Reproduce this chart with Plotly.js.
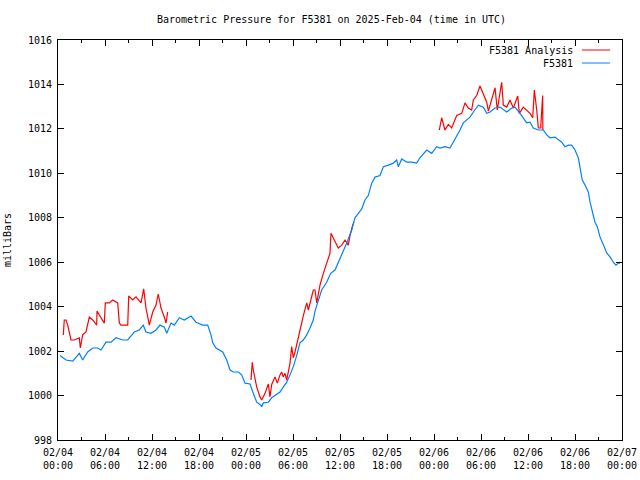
<!DOCTYPE html>
<html>
<head>
<meta charset="utf-8">
<script src="https://cdn.plot.ly/plotly-3.0.1.min.js"></script>
<style>html,body{margin:0;padding:0;background:#fff;}#chart{width:640px;height:480px;}</style>
</head>
<body>
<div id="chart"></div>
<script>
// Hours since 2025-02-04 00:00 UTC
const blueHours = [0.26,1.02,1.88,2.51,2.72,3.15,3.79,4.43,5.07,5.49,6.13,6.77,7.40,8.26,8.90,9.74,10.38,10.89,11.23,11.87,12.51,13.02,13.57,13.88,14.43,14.85,15.49,16.12,16.98,17.62,18.47,19.11,19.53,19.75,20.17,21.03,21.54,21.96,22.38,23.02,23.45,23.87,24.51,24.93,25.37,25.79,26.0,26.21,26.85,27.28,27.70,28.34,28.76,29.20,29.62,30.04,30.47,30.89,31.31,31.75,32.17,32.59,32.81,33.23,33.66,34.30,34.81,35.36,35.78,36.22,36.86,37.49,37.91,38.34,38.77,39.19,39.61,40.05,40.47,41.11,41.53,42.17,42.80,43.24,43.44,43.88,44.52,45.15,45.79,46.21,47.07,47.71,48.34,48.77,49.40,50.04,50.46,50.90,51.32,51.74,52.17,52.60,53.02,53.66,54.30,54.73,55.15,55.79,56.43,56.85,57.28,57.92,58.34,58.98,59.62,59.83,60.26,60.68,61.32,61.96,62.39,62.81,63.45,63.87,64.30,64.72,65.15,65.58,66.0,66.42,66.64,66.93,67.28,67.70,67.92,68.26,68.55,68.85,69.19,69.61,70.05,70.47,70.89,71.23,71.53,71.74];
const bluePressure = [1001.8,1001.6,1001.55,1001.8,1001.9,1001.6,1001.96,1002.14,1002.14,1002.05,1002.4,1002.4,1002.6,1002.5,1002.5,1002.86,1002.95,1003.17,1002.86,1002.8,1002.95,1003.17,1003.08,1002.8,1003.26,1003.17,1003.5,1003.4,1003.58,1003.3,1003.17,1003.17,1002.73,1002.37,1002.14,1001.96,1001.6,1001.15,1001.06,1001.06,1000.93,1000.56,1000.52,1000.1,999.7,999.6,999.5,999.67,999.7,999.9,1000.0,1000.16,1000.38,1000.6,1000.93,1001.3,1001.8,1002.37,1002.5,1002.73,1003.04,1003.4,1003.8,1004.3,1004.75,1005.1,1005.5,1005.65,1006.0,1006.3,1006.86,1007.45,1008.0,1008.2,1008.4,1008.8,1009.0,1009.56,1009.83,1009.9,1010.3,1010.37,1010.46,1010.6,1010.3,1010.65,1010.5,1010.5,1010.46,1010.7,1011.05,1010.9,1011.2,1011.14,1011.2,1011.14,1011.4,1011.63,1011.95,1012.27,1012.4,1012.53,1012.76,1013.07,1012.98,1012.7,1012.76,1012.94,1012.98,1012.85,1012.76,1012.94,1012.98,1012.7,1012.4,1012.27,1012.3,1012.04,1011.95,1011.95,1011.73,1011.6,1011.63,1011.5,1011.4,1011.2,1011.27,1011.27,1011.05,1010.7,1010.3,1009.7,1009.47,1009.16,1008.7,1008.26,1007.8,1007.6,1007.14,1006.8,1006.42,1006.24,1006.0,1005.87,1005.96,1005.96];

const redHours = [0.68,0.80,1.02,1.24,1.66,2.08,2.72,2.85,3.15,3.57,4.0,4.43,4.94,4.98,5.49,5.91,6.04,6.55,6.98,7.62,7.83,8.04,8.90,9.03,9.54,9.96,10.60,10.94,11.23,11.66,12.09,12.51,12.80,13.15,13.57,13.79,14.0,
 14.5,
 24.64,24.80,24.93,25.37,25.79,26.0,26.43,26.85,27.06,27.28,27.70,28.0,28.34,28.55,28.76,28.98,29.20,29.40,29.62,29.83,30.04,30.26,30.68,30.89,31.11,31.32,31.75,31.96,32.59,32.81,33.03,33.45,33.87,34.30,34.72,34.85,35.14,35.78,36.22,36.64,37.06,37.28,37.62,37.79,
 38.5,
 48.68,48.98,49.40,49.83,50.26,50.90,51.54,51.96,52.38,52.81,53.02,53.45,53.87,54.30,54.73,54.94,55.15,55.79,56.08,56.64,56.85,57.28,57.70,58.13,58.69,58.89,59.40,60.26,60.60,60.81,61.11,61.32,61.62,61.87,61.90];
const redPressure = [1002.73,1003.4,1003.4,1003.17,1002.5,1002.5,1002.6,1002.14,1002.73,1002.86,1003.53,1003.4,1003.17,1003.8,1003.5,1003.26,1004.17,1004.17,1004.3,1004.17,1003.26,1003.17,1003.17,1004.48,1004.3,1004.44,1004.17,1004.8,1003.94,1003.17,1003.76,1004.07,1004.57,1003.94,1003.53,1003.26,1003.76,
 null,
 1000.7,1001.5,1001.15,1000.38,999.94,999.8,1000.1,1000.52,999.94,1000.5,1000.84,1000.56,1000.93,1001.06,1000.84,1001.0,1000.7,1001.1,1001.46,1002.2,1001.7,1001.96,1002.6,1002.95,1003.4,1003.6,1004.17,1003.85,1004.75,1004.75,1004.17,1004.98,1005.5,1005.96,1006.4,1007.3,1007.1,1006.64,1006.77,1007.0,1006.77,1007.2,1007.67,1007.8,
 null,
 1011.95,1012.5,1011.95,1012.2,1012.04,1012.6,1012.7,1013.17,1012.94,1012.85,1013.3,1013.5,1013.93,1013.6,1013.2,1012.8,1013.07,1013.85,1012.85,1014.1,1013.07,1012.98,1013.3,1012.94,1013.48,1012.7,1012.98,1012.7,1012.5,1013.75,1012.85,1012.04,1012.04,1013.5,1011.95];

const xTickVals = [0,6,12,18,24,30,36,42,48,54,60,66,72];
const xTickText = ['02/04<br>00:00','02/04<br>06:00','02/04<br>12:00','02/04<br>18:00','02/05<br>00:00','02/05<br>06:00','02/05<br>12:00','02/05<br>18:00','02/06<br>00:00','02/06<br>06:00','02/06<br>12:00','02/06<br>18:00','02/07<br>00:00'];
const seriesNames = ['F5381 Analysis','F5381'];
const seriesColors = ['#ff0000','#0080ff'];

const FONT = 'DejaVu Sans Mono, monospace';

const traces = [
  {x: redHours, y: redPressure, type:'scatter', mode:'lines', name: seriesNames[0],
   line:{color: seriesColors[0], width:1.2}, connectgaps:false},
  {x: blueHours, y: bluePressure, type:'scatter', mode:'lines', name: seriesNames[1],
   line:{color: seriesColors[1], width:1.2}}
];

const legendRowsY = [0.975, 0.9425];
const annotations = seriesNames.map((n,i)=>({
  text: n, xref:'paper', yref:'paper', x:0.9167, y:legendRowsY[i],
  xanchor:'right', yanchor:'middle', showarrow:false,
  font:{family:FONT, size:10, color:'#000'}
}));
const shapes = seriesNames.map((n,i)=>({
  type:'line', xref:'paper', yref:'paper', x0:0.929, x1:0.979, y0:legendRowsY[i], y1:legendRowsY[i],
  line:{color: seriesColors[i], width:1}
}));

const layout = {
  width:640, height:480,
  margin:{l:58, r:18, t:40, b:40, pad:0},
  paper_bgcolor:'#fff', plot_bgcolor:'#fff',
  showlegend:false,
  font:{family:FONT, size:10, color:'#000'},
  title:{text:'Barometric Pressure for F5381 on 2025-Feb-04 (time in UTC)',
         xref:'container', x:0.518, xanchor:'center', yref:'container', y:0.96, yanchor:'middle',
         font:{family:FONT, size:10, color:'#000'}},
  xaxis:{range:[0,72], tickmode:'array', tickvals:xTickVals, ticktext:xTickText,
         ticks:'inside', ticklen:6, tickcolor:'#000', tickwidth:1,
         showline:true, linecolor:'#000', linewidth:1, mirror:'ticks',
         showgrid:false, zeroline:false, ticklabelstandoff:3,
         minor:{tickmode:'linear', tick0:3, dtick:6, ticks:'inside', ticklen:3, tickcolor:'#000', showgrid:false},
         tickfont:{family:FONT, size:10, color:'#000'}, automargin:false},
  yaxis:{range:[998,1016], tickmode:'linear', tick0:998, dtick:2,
         ticks:'inside', ticklen:6, tickcolor:'#000', tickwidth:1,
         showline:true, linecolor:'#000', linewidth:1, mirror:'ticks',
         showgrid:false, zeroline:false, ticklabelstandoff:3,
         tickfont:{family:FONT, size:10, color:'#000'}, automargin:false,
         title:{text:'milliBars', standoff:14, font:{family:FONT, size:10, color:'#000'}}},
  annotations: annotations,
  shapes: shapes
};

Plotly.newPlot('chart', traces, layout, {displayModeBar:false, staticPlot:true});
</script>
</body>
</html>
